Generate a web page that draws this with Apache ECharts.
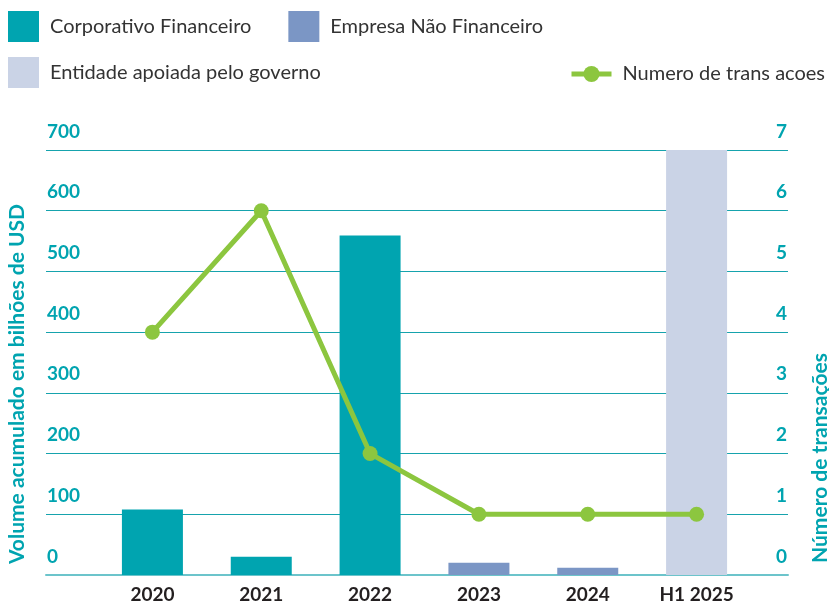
<!DOCTYPE html>
<html>
<head>
<meta charset="utf-8">
<title>Volume acumulado</title>
<script src="https://cdn.jsdelivr.net/npm/echarts@6/dist/echarts.min.js"></script>
<style>
  html, body { margin: 0; padding: 0; background: #fff; }
  #chart { width: 829px; height: 603px; }
</style>
</head>
<body>
<div id="chart"></div>
<script>
// categories and values
var years = ['2020', '2021', '2022', '2023', '2024', 'H1 2025'];
var corporativo = [108, 30, 559, '-', '-', '-'];
var empresa = ['-', '-', '-', 20, 12, '-'];
var entidade = ['-', '-', '-', '-', '-', 700];
var transacoes = [4, 6, 2, 1, 1, 1];

var volTicks = { min: 0, max: 700, interval: 100 };
var numTicks = { min: 0, max: 7, interval: 1 };

var TEAL = '#00a4b0';
var BLUE = '#7b96c5';
var LAV = '#cad3e6';
var GREEN = '#8cc63f';
var FONT = 'Lato';

var chart = echarts.init(document.getElementById('chart'));

var legendText = { fontFamily: FONT, fontSize: 20, color: '#333', padding: [0, 0, 0, 6] };

// tick labels sit above their grid line
var tickLabel = {
  inside: true, margin: 1, verticalAlign: 'bottom', lineHeight: 37,
  showMinLabel: true, showMaxLabel: true,
  fontFamily: FONT, fontSize: 19, fontWeight: 'bold', color: TEAL
};

var option = {
  animation: false,
  textStyle: { fontFamily: FONT },
  legend: [
    {
      left: 8, top: 11, padding: 0, itemWidth: 31, itemHeight: 31, itemGap: 37, icon: 'rect',
      data: ['Corporativo Financeiro', 'Empresa Não Financeiro'],
      textStyle: legendText
    },
    {
      left: 8, top: 57, padding: 0, itemWidth: 31, itemHeight: 31, icon: 'rect',
      data: ['Entidade apoiada pelo governo'],
      textStyle: legendText
    },
    {
      right: 4, top: 64, padding: 0, itemWidth: 40, itemHeight: 20,
      lineStyle: { width: 5 },
      data: ['Numero de trans acoes'],
      textStyle: legendText
    }
  ],
  grid: [
    // grid for the split lines / tick labels, full width
    { left: 46, right: 41, top: 150, bottom: 28, outerBoundsMode: 'none' },
    // grid holding the bars and line
    { left: 98, right: 78, top: 150, bottom: 28, outerBoundsMode: 'none' }
  ],
  xAxis: [
    {
      gridIndex: 0, type: 'value', min: 0, max: 1,
      axisLabel: { show: false }, axisTick: { show: false }, splitLine: { show: false },
      axisLine: { show: true, lineStyle: { color: '#6cc4cb', width: 2 } }
    },
    {
      gridIndex: 1, type: 'category', data: years,
      axisLine: { show: false }, axisTick: { show: false },
      axisLabel: { fontFamily: FONT, fontSize: 19, fontWeight: 'bold', color: '#231f20', margin: 10 }
    }
  ],
  yAxis: [
    {
      gridIndex: 0, type: 'value', min: volTicks.min, max: volTicks.max, interval: volTicks.interval,
      axisLine: { show: false }, axisTick: { show: false },
      splitLine: { lineStyle: { color: '#16a3ad', width: 1 } },
      axisLabel: Object.assign({ align: 'left' }, tickLabel)
    },
    {
      gridIndex: 0, type: 'value', position: 'right',
      min: numTicks.min, max: numTicks.max, interval: numTicks.interval,
      axisLine: { show: false }, axisTick: { show: false }, splitLine: { show: false },
      axisLabel: Object.assign({ align: 'right' }, tickLabel)
    },
    {
      gridIndex: 1, type: 'value', min: volTicks.min, max: volTicks.max, interval: volTicks.interval,
      show: false, splitLine: { show: false }
    },
    {
      gridIndex: 1, type: 'value', min: numTicks.min, max: numTicks.max, interval: numTicks.interval,
      show: false, splitLine: { show: false }
    }
  ],
  graphic: [
    {
      type: 'text', x: 17, y: 384, rotation: Math.PI / 2,
      style: {
        text: 'Volume acumulado em bilhões de USD', align: 'center', verticalAlign: 'middle',
        font: 'bold 21px ' + FONT, fill: TEAL
      }
    },
    {
      type: 'text', x: 820, y: 458, rotation: Math.PI / 2,
      style: {
        text: 'Número de transações', align: 'center', verticalAlign: 'middle',
        font: 'bold 21px ' + FONT, fill: TEAL
      }
    }
  ],
  series: [
    {
      name: 'Corporativo Financeiro', type: 'bar', stack: 'vol',
      xAxisIndex: 1, yAxisIndex: 2, barWidth: 61,
      itemStyle: { color: TEAL }, data: corporativo
    },
    {
      name: 'Empresa Não Financeiro', type: 'bar', stack: 'vol',
      xAxisIndex: 1, yAxisIndex: 2, barWidth: 61,
      itemStyle: { color: BLUE }, data: empresa
    },
    {
      name: 'Entidade apoiada pelo governo', type: 'bar', stack: 'vol',
      xAxisIndex: 1, yAxisIndex: 2, barWidth: 61,
      itemStyle: { color: LAV }, data: entidade
    },
    {
      name: 'Numero de trans acoes', type: 'line',
      xAxisIndex: 1, yAxisIndex: 3,
      symbol: 'circle', symbolSize: 15,
      lineStyle: { color: GREEN, width: 5 },
      itemStyle: { color: GREEN },
      data: transacoes
    }
  ]
};

chart.setOption(option);
</script>
</body>
</html>
